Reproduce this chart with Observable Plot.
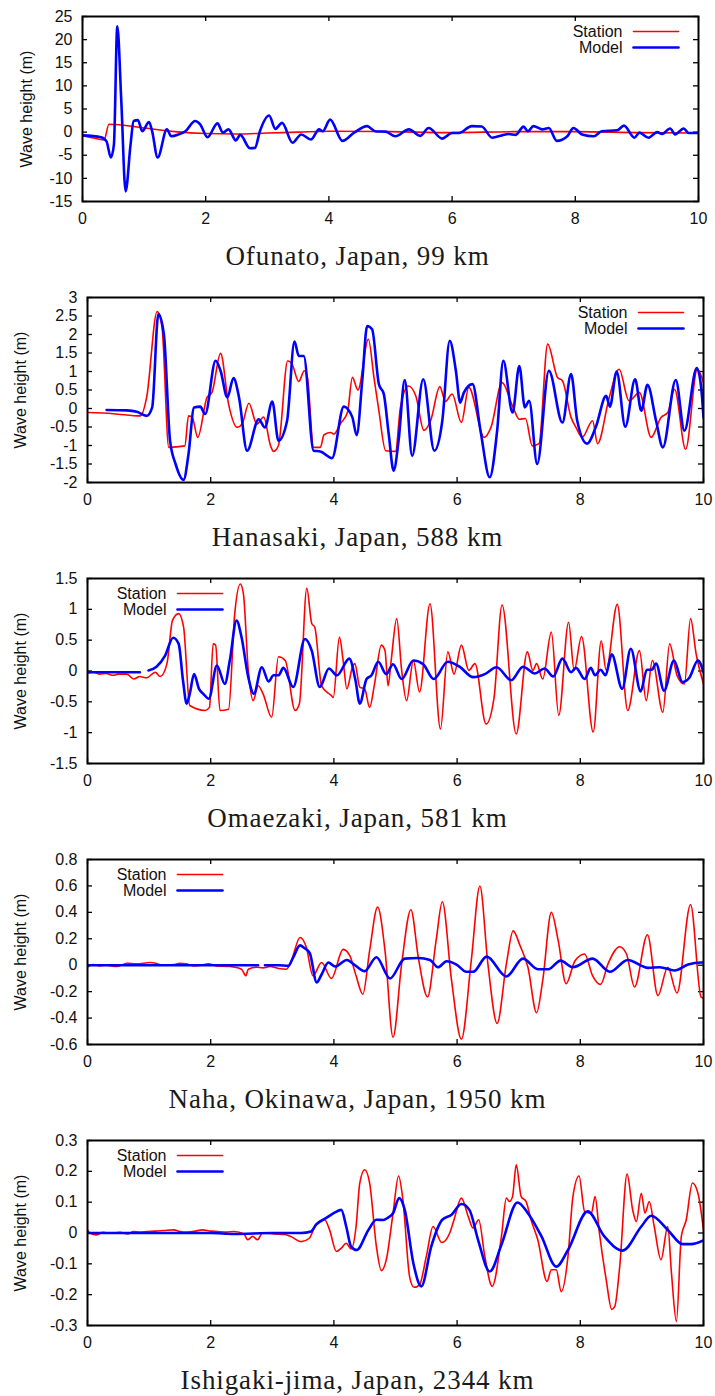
<!DOCTYPE html>
<html><head><meta charset="utf-8">
<script src="https://cdn.jsdelivr.net/npm/d3@7"></script>
<script src="https://cdn.jsdelivr.net/npm/@observablehq/plot@0.6"></script>
<style>
html,body{margin:0;padding:0;background:#fff;}
body{width:715px;height:1396px;overflow:hidden;position:relative;}
.panel{position:absolute;left:0;width:715px;height:281px;}
.panel svg{position:absolute;left:0;top:0;}
.title{position:absolute;left:0;width:715px;top:241px;text-align:center;font-family:"Liberation Serif","Times New Roman",serif;font-size:27px;letter-spacing:0.9px;line-height:30px;color:#1a1a1a;}
</style></head><body>
<script>
// ---- data (time in hours, wave height in m) ----
const xTicks = [0, 2, 4, 6, 8, 10];

const ofunatoTicks = [-15, -10, -5, 0, 5, 10, 15, 20, 25];
const ofunatoStation = [[0,-0.8],[0.15,-1.2],[0.35,-1.7],[0.43,1.7],[1.0,0.9],[1.5,0.1],[2.0,-0.3],[2.5,-0.4],[3.0,-0.2],[3.5,0.0],[4.0,0.2],[5.0,0.1],[6.0,-0.1],[7.0,0.1],[8.0,0.1],[9.0,-0.1],[10,-0.2]];
const ofunatoModel = [[0,-0.7],[0.3,-1.1],[0.39,-2],[0.46,-5.5],[0.51,-2.7],[0.565,22.9],[0.63,6.7],[0.70,-12.8],[0.78,-2.7],[0.83,2.4],[0.9,2.6],[0.97,0.2],[1.08,2.2],[1.13,0.2],[1.22,-5.5],[1.37,0.6],[1.44,-0.9],[1.56,-0.5],[1.67,0.2],[1.83,2.4],[1.91,1.7],[2.03,-1.1],[2.19,1.9],[2.28,-0.1],[2.37,0.6],[2.49,-1.8],[2.56,-0.6],[2.72,-3.5],[2.8,-3.4],[2.88,0.2],[3.03,3.6],[3.13,0.7],[3.24,2.0],[3.41,-2.3],[3.55,-0.5],[3.71,-1.6],[3.84,0.6],[3.9,0.2],[4.02,2.7],[4.22,-1.9],[4.41,-0.1],[4.62,1.3],[4.75,0.2],[4.92,0.1],[5.08,-0.9],[5.3,0.6],[5.48,-0.8],[5.62,0.9],[5.84,-1.4],[6.0,-0.2],[6.11,-0.2],[6.32,1.3],[6.48,1.2],[6.65,-1.2],[6.81,-0.7],[6.92,-0.4],[7.03,-0.6],[7.16,1.2],[7.23,0.2],[7.32,1.3],[7.46,0.6],[7.57,0.9],[7.7,-1.9],[7.87,-0.9],[7.97,0.9],[8.11,-0.5],[8.3,-0.9],[8.43,0.2],[8.68,0.4],[8.79,1.4],[8.96,-1.2],[9.04,-0.1],[9.19,-1.2],[9.33,0],[9.41,-0.4],[9.54,0.8],[9.62,-0.5],[9.76,0.8],[9.84,-0.2],[10,-0.2]];

const hanasakiTicks = [-2, -1.5, -1, -0.5, 0, 0.5, 1, 1.5, 2, 2.5, 3];
const hanasakiStation = [[0,-0.11],[0.42,-0.14],[0.86,-0.2],[0.96,0.3],[1.13,2.62],[1.21,2.19],[1.32,-1.05],[1.58,-1.01],[1.64,-0.2],[1.7,-0.24],[1.79,-0.78],[1.94,0.3],[2.02,0.43],[2.16,1.49],[2.29,0.12],[2.43,-0.51],[2.51,-0.42],[2.62,0.14],[2.75,-0.42],[2.86,-0.23],[2.97,-1.0],[3.02,-1.16],[3.1,-1.0],[3.25,1.29],[3.32,1.2],[3.43,0.73],[3.52,1.02],[3.57,0.84],[3.67,-1.05],[3.78,-1.05],[3.84,-0.71],[3.95,-0.65],[4.0,-0.69],[4.11,-0.4],[4.22,-0.11],[4.3,0.84],[4.39,0.5],[4.56,1.87],[4.65,0.84],[4.73,-0.06],[4.84,-1.14],[5.0,-1.16],[5.08,0.03],[5.21,0.61],[5.33,0.34],[5.46,-0.59],[5.57,-0.33],[5.72,0.59],[5.81,0.19],[5.92,0.39],[6.07,-0.38],[6.19,0.57],[6.44,-0.78],[6.55,-0.51],[6.73,0.7],[6.9,0.07],[7.01,-0.29],[7.11,-0.27],[7.22,-1.01],[7.33,-0.95],[7.47,1.74],[7.63,0.84],[7.71,0.75],[7.85,-0.24],[7.93,-0.51],[8.03,-0.78],[8.2,-0.33],[8.28,-0.95],[8.47,0.3],[8.63,1.06],[8.79,0.21],[8.96,0.43],[9.15,-0.78],[9.31,-0.24],[9.42,-0.11],[9.53,0.52],[9.71,-1.1],[9.9,1.06],[10,0.7]];
const hanasakiModel = [[0.31,-0.04],[0.64,-0.05],[0.8,-0.09],[0.96,-0.2],[1.05,0.03],[1.15,2.55],[1.24,2.0],[1.34,-0.87],[1.43,-1.5],[1.56,-1.93],[1.64,-1.23],[1.73,0.03],[1.83,0.05],[1.91,-0.15],[2.08,1.29],[2.16,1.02],[2.27,0.3],[2.37,0.82],[2.46,0.3],[2.59,-1.14],[2.78,-0.29],[2.88,-0.51],[3.0,0.19],[3.1,-0.87],[3.24,-0.33],[3.36,1.81],[3.43,1.42],[3.51,1.42],[3.67,-1.14],[3.78,-1.16],[3.97,-1.34],[4.16,0.05],[4.3,-0.24],[4.37,-0.72],[4.46,0.75],[4.54,2.23],[4.62,2.14],[4.73,0.66],[4.81,0.39],[4.89,-0.69],[4.97,-1.68],[5.05,-0.87],[5.15,0.77],[5.27,-1.28],[5.45,0.79],[5.63,-1.14],[5.76,-0.33],[5.88,1.83],[5.98,1.02],[6.05,0.16],[6.11,0.43],[6.25,0.66],[6.38,-0.6],[6.53,-1.86],[6.65,-0.6],[6.75,1.29],[6.9,-0.11],[7.01,1.15],[7.1,0.03],[7.17,0.21],[7.3,-1.5],[7.49,1.02],[7.71,-0.38],[7.85,0.93],[7.95,-0.33],[8.11,-0.95],[8.25,-0.51],[8.42,0.34],[8.48,0.05],[8.59,1.0],[8.73,-0.49],[8.89,0.79],[8.99,-0.06],[9.09,0.64],[9.23,-0.33],[9.34,-1.05],[9.55,0.77],[9.69,-0.6],[9.89,1.09],[9.96,0.6],[10,-0.24]];

const omaezakiTicks = [-1.5, -1, -0.5, 0, 0.5, 1, 1.5];
const omaezakiStation = [[0,-0.03],[0.1,-0.02],[0.2,-0.05],[0.3,-0.04],[0.42,-0.07],[0.5,-0.05],[0.64,-0.05],[0.75,-0.13],[0.85,-0.09],[0.96,-0.11],[1.1,-0.02],[1.18,-0.09],[1.29,0.12],[1.38,0.82],[1.48,0.93],[1.56,0.71],[1.66,-0.56],[1.91,-0.64],[1.98,-0.59],[2.04,0.44],[2.08,0.42],[2.15,-0.64],[2.29,-0.62],[2.39,0.93],[2.48,1.41],[2.53,1.26],[2.61,0.01],[2.69,-0.48],[2.77,-0.24],[2.85,-0.37],[2.99,-0.75],[3.1,0.23],[3.21,0.17],[3.37,-0.64],[3.44,-0.53],[3.56,1.34],[3.64,0.77],[3.69,0.71],[3.8,-0.24],[3.96,-0.4],[3.99,-0.43],[4.09,0.55],[4.15,0.17],[4.21,-0.29],[4.3,0.06],[4.34,0.12],[4.42,-0.26],[4.5,-0.29],[4.58,-0.59],[4.66,-0.21],[4.77,0.42],[4.83,0.33],[4.88,-0.24],[4.93,0.17],[5.02,0.85],[5.1,0.01],[5.18,-0.48],[5.29,0.17],[5.39,-0.34],[5.56,1.09],[5.73,-0.94],[5.85,0.31],[5.95,-0.05],[6.07,0.42],[6.19,0.01],[6.29,0.12],[6.47,-0.86],[6.6,-0.43],[6.73,1.07],[6.96,-1.02],[7.14,0.31],[7.23,0.01],[7.29,0.12],[7.39,-0.13],[7.53,0.63],[7.65,-0.72],[7.81,0.79],[7.9,0.01],[8.02,0.56],[8.21,-0.99],[8.34,0.49],[8.42,0.01],[8.6,1.08],[8.77,-0.64],[8.96,0.33],[9.07,-0.48],[9.17,0.17],[9.34,-0.67],[9.45,0.44],[9.57,-0.07],[9.69,-0.21],[9.79,0.85],[9.88,0.28],[10,-0.21]];
const omaezakiModel = [[0,-0.02],[0.4,-0.02],[0.85,-0.02],[0.92,null],[0.99,0.01],[1.12,0.07],[1.26,0.25],[1.39,0.54],[1.48,0.44],[1.55,-0.15],[1.61,-0.53],[1.66,-0.37],[1.73,-0.05],[1.81,-0.29],[1.88,-0.37],[1.97,-0.45],[2.1,0.09],[2.23,-0.21],[2.31,0.17],[2.42,0.82],[2.5,0.55],[2.61,-0.1],[2.7,-0.37],[2.83,0.06],[2.94,-0.17],[3.02,-0.07],[3.1,-0.07],[3.18,0.05],[3.34,-0.26],[3.53,0.52],[3.64,0.33],[3.77,-0.26],[3.92,0.04],[4.05,-0.07],[4.25,0.2],[4.35,-0.15],[4.42,-0.53],[4.53,-0.13],[4.61,-0.07],[4.72,0.15],[4.85,-0.05],[4.96,0.11],[5.1,-0.13],[5.29,0.17],[5.45,0.11],[5.62,-0.13],[5.85,0.15],[6.04,0.07],[6.26,-0.1],[6.45,-0.05],[6.64,0.06],[6.88,-0.15],[7.07,0.07],[7.26,-0.04],[7.42,0.04],[7.56,-0.09],[7.71,0.2],[7.85,-0.02],[7.93,0.05],[8.07,-0.13],[8.17,0.05],[8.24,-0.07],[8.33,0.02],[8.41,-0.07],[8.51,0.27],[8.68,-0.29],[8.82,0.36],[8.98,-0.33],[9.08,0.02],[9.16,0.02],[9.23,0.12],[9.36,-0.32],[9.52,0.17],[9.66,-0.18],[9.77,-0.11],[9.91,0.17],[10,-0.02]];

const nahaTicks = [-0.6, -0.4, -0.2, 0, 0.2, 0.4, 0.6, 0.8];
const nahaStation = [[0,-0.015],[0.05,0.0],[0.1,0.005],[0.2,-0.005],[0.3,0.0],[0.48,-0.01],[0.64,0.015],[0.8,0.01],[1.02,0.02],[1.1,0.015],[1.23,0],[1.4,0.005],[1.5,0.015],[1.6,0.01],[1.72,-0.005],[1.85,0.0],[1.96,0.01],[2.1,-0.005],[2.31,-0.01],[2.5,-0.03],[2.57,-0.08],[2.61,-0.03],[2.75,-0.015],[2.85,-0.02],[2.96,-0.01],[3.1,-0.025],[3.23,-0.03],[3.31,0.035],[3.45,0.21],[3.55,0.14],[3.66,-0.08],[3.8,0.02],[3.96,-0.1],[4.15,0.12],[4.26,0.07],[4.36,-0.08],[4.47,-0.22],[4.58,0.11],[4.71,0.44],[4.83,0.11],[4.96,-0.545],[5.1,0.01],[5.25,0.42],[5.37,0.06],[5.52,-0.24],[5.66,0.19],[5.76,0.48],[5.91,-0.115],[6.07,-0.56],[6.23,0.035],[6.37,0.6],[6.5,0.01],[6.65,-0.44],[6.8,0.01],[6.91,0.26],[7.02,0.15],[7.15,-0.015],[7.29,-0.36],[7.39,-0.115],[7.53,0.4],[7.64,0.19],[7.77,-0.14],[7.91,0.03],[8.07,0.085],[8.2,-0.08],[8.33,-0.145],[8.45,0.01],[8.64,0.14],[8.75,0.085],[8.88,-0.165],[9.09,0.23],[9.26,-0.23],[9.42,-0.015],[9.57,-0.21],[9.79,0.46],[9.96,-0.24],[10,-0.25]];
const nahaModel = [[0,0],[0.5,0],[1.0,0],[1.5,0],[2.0,0],[2.5,0],[2.77,0],[2.83,null],[2.88,0],[3.1,0],[3.26,-0.005],[3.34,0.06],[3.45,0.15],[3.52,0.13],[3.61,0.09],[3.72,-0.13],[3.8,-0.07],[3.91,0.02],[4.02,-0.01],[4.21,0.04],[4.34,0.0],[4.5,-0.045],[4.69,0.06],[4.91,-0.1],[5.15,0.05],[5.37,0.055],[5.56,0.04],[5.69,-0.015],[5.83,0.03],[5.99,0.005],[6.15,-0.05],[6.26,-0.05],[6.48,0.065],[6.8,-0.085],[7.07,0.05],[7.31,-0.03],[7.48,-0.03],[7.68,0.035],[7.88,-0.015],[8.2,0.05],[8.48,-0.05],[8.77,0.04],[9.1,-0.02],[9.29,-0.015],[9.53,-0.04],[9.75,0.005],[9.96,0.02],[10,0.02]];

const ishigakiTicks = [-0.3, -0.2, -0.1, 0, 0.1, 0.2, 0.3];
const ishigakiStation = [[0,0.01],[0.04,0],[0.15,-0.006],[0.25,0.002],[0.37,0],[0.53,0.002],[0.65,-0.003],[0.75,0.005],[0.85,0.003],[0.97,0.005],[1.1,0.006],[1.24,0.008],[1.4,0.01],[1.5,0.005],[1.62,0.003],[1.75,0.006],[1.86,0.01],[2.0,0.006],[2.11,0.005],[2.25,0.003],[2.38,0.005],[2.54,-0.003],[2.6,-0.022],[2.68,-0.011],[2.76,-0.022],[2.84,0],[3.03,-0.003],[3.2,-0.005],[3.3,-0.011],[3.47,-0.028],[3.6,-0.017],[3.71,0.027],[3.85,0.043],[3.93,0.01],[4.04,-0.06],[4.12,-0.049],[4.2,-0.033],[4.28,-0.052],[4.36,0.021],[4.42,0.162],[4.5,0.205],[4.58,0.162],[4.69,-0.044],[4.77,-0.122],[4.85,-0.087],[4.96,0.064],[5.05,0.185],[5.12,0.108],[5.23,-0.143],[5.3,-0.176],[5.39,-0.168],[5.5,-0.076],[5.61,0.021],[5.75,-0.031],[5.88,0],[5.95,0.043],[6.07,0.113],[6.18,0.054],[6.26,0.016],[6.35,0.043],[6.45,-0.076],[6.57,-0.173],[6.72,-0.011],[6.8,0.113],[6.85,0.102],[6.9,0.118],[6.96,0.221],[7.04,0.118],[7.12,0.102],[7.2,0.043],[7.31,-0.022],[7.46,-0.157],[7.53,-0.119],[7.61,-0.119],[7.69,-0.19],[7.8,-0.076],[7.88,0.118],[7.98,0.185],[8.07,0.07],[8.18,0.064],[8.24,0.118],[8.31,0],[8.42,-0.151],[8.51,-0.248],[8.56,-0.238],[8.64,-0.108],[8.76,0.191],[8.85,0.075],[8.91,0.037],[8.99,0.129],[9.05,0.064],[9.12,0.102],[9.2,0.021],[9.31,-0.087],[9.42,0.021],[9.48,-0.13],[9.56,-0.287],[9.64,-0.011],[9.72,0.043],[9.82,0.162],[9.91,0.129],[10,0.01]];
const ishigakiModel = [[0,0],[1,0],[2,0],[2.38,-0.003],[3,0],[3.47,0],[3.63,0.005],[3.71,0.027],[3.87,0.048],[4.01,0.066],[4.12,0.075],[4.2,0.021],[4.28,-0.044],[4.37,-0.055],[4.56,0.01],[4.69,0.043],[4.8,0.042],[4.88,0.05],[4.96,0.064],[5.06,0.113],[5.15,0.075],[5.29,-0.098],[5.42,-0.173],[5.58,-0.044],[5.76,0.043],[5.91,0.059],[6.07,0.094],[6.2,0.075],[6.34,-0.022],[6.53,-0.125],[6.72,-0.038],[6.98,0.099],[7.15,0.064],[7.37,-0.011],[7.61,-0.109],[7.8,-0.055],[8.12,0.07],[8.39,-0.011],[8.69,-0.057],[8.99,0.021],[9.15,0.056],[9.42,0.01],[9.66,-0.036],[9.8,-0.036],[10,-0.024]];

const titles = ["Ofunato, Japan, 99 km", "Hanasaki, Japan, 588 km", "Omaezaki, Japan, 581 km", "Naha, Okinawa, Japan, 1950 km", "Ishigaki-jima, Japan, 2344 km"];
const legendLabels = ["Station", "Model"];
const colors = ["#ff0000", "#0000ff"];

// ---- layout ----
const panels = [
  {title: titles[0], station: ofunatoStation, model: ofunatoModel, ticks: ofunatoTicks, ml: 82, mr: 17, legend: "right", labelOffset: 62},
  {title: titles[1], station: hanasakiStation, model: hanasakiModel, ticks: hanasakiTicks, ml: 87, mr: 12, legend: "right", labelOffset: 73},
  {title: titles[2], station: omaezakiStation, model: omaezakiModel, ticks: omaezakiTicks, ml: 87, mr: 12, legend: "left", labelOffset: 73},
  {title: titles[3], station: nahaStation, model: nahaModel, ticks: nahaTicks, ml: 87, mr: 12, legend: "left", labelOffset: 73},
  {title: titles[4], station: ishigakiStation, model: ishigakiModel, ticks: ishigakiTicks, ml: 87, mr: 12, legend: "left", labelOffset: 73}
];

const lineShape = {draw(context, l) { context.moveTo(0, 0); context.lineTo(0, -l); }};
const toRows = arr => arr.map(([t, h]) => ({t, h}));

panels.forEach((p, i) => {
  const W = 715, H = 240, mt = 16, mb = 39;
  const fw = W - p.ml - p.mr, fh = H - mt - mb;
  const tick = 5;
  const right = p.legend === "right";
  const anchor = right ? "top-right" : "top-left";
  const textDx = right ? -76 : 79;
  const lineDx = right ? -65 : 90;
  const legendMarks = [];
  legendLabels.forEach((lab, k) => {
    const dy = k === 0 ? 15 : 31;
    legendMarks.push(Plot.text([lab], {frameAnchor: anchor, text: d => d, dx: textDx, dy, textAnchor: "end", lineAnchor: "middle", fontSize: 16, fill: "#111"}));
    legendMarks.push(Plot.vector([lab], {frameAnchor: anchor, dx: lineDx, dy, length: 45, rotate: 90, anchor: "start", shape: lineShape, stroke: colors[k], strokeWidth: k === 0 ? 1.6 : 2.6}));
  });
  const chart = Plot.plot({
    width: W, height: H,
    marginTop: mt, marginBottom: mb, marginLeft: p.ml, marginRight: p.mr,
    style: {fontFamily: "'Liberation Sans', Arial, sans-serif", fontSize: "16px", color: "#111", background: "white"},
    x: {domain: [0, 10]},
    y: {domain: [p.ticks[0], p.ticks[p.ticks.length - 1]]},
    marks: [
      Plot.axisX({ticks: xTicks, tickSize: 0, tickPadding: 11, tickFormat: d => String(d), label: null, fontSize: 16}),
      Plot.axisY({ticks: p.ticks, tickSize: 0, tickPadding: 10, tickFormat: d => String(d), label: "Wave height (m)", labelAnchor: "center", labelArrow: "none", labelOffset: p.labelOffset, fontSize: 16}),
      Plot.tickX(xTicks, {x: d => d, insetTop: fh - tick, stroke: "black", strokeWidth: 1.3}),
      Plot.tickX(xTicks, {x: d => d, insetBottom: fh - tick, stroke: "black", strokeWidth: 1.3}),
      Plot.tickY(p.ticks, {y: d => d, insetRight: fw - tick, stroke: "black", strokeWidth: 1.3}),
      Plot.tickY(p.ticks, {y: d => d, insetLeft: fw - tick, stroke: "black", strokeWidth: 1.3}),
      Plot.line(toRows(p.station), {x: "t", y: "h", stroke: colors[0], strokeWidth: 1.6, curve: "monotone-x", clip: true}),
      Plot.line(toRows(p.model), {x: "t", y: "h", stroke: colors[1], strokeWidth: 2.6, curve: "monotone-x", clip: true}),
      ...legendMarks,
      Plot.frame({stroke: "black", strokeWidth: 2})
    ]
  });
  const div = document.createElement("div");
  div.className = "panel";
  div.style.top = (281 * i) + "px";
  div.appendChild(chart);
  const t = document.createElement("div");
  t.className = "title";
  t.textContent = p.title;
  div.appendChild(t);
  document.body.appendChild(div);
});
</script>
</body></html>
